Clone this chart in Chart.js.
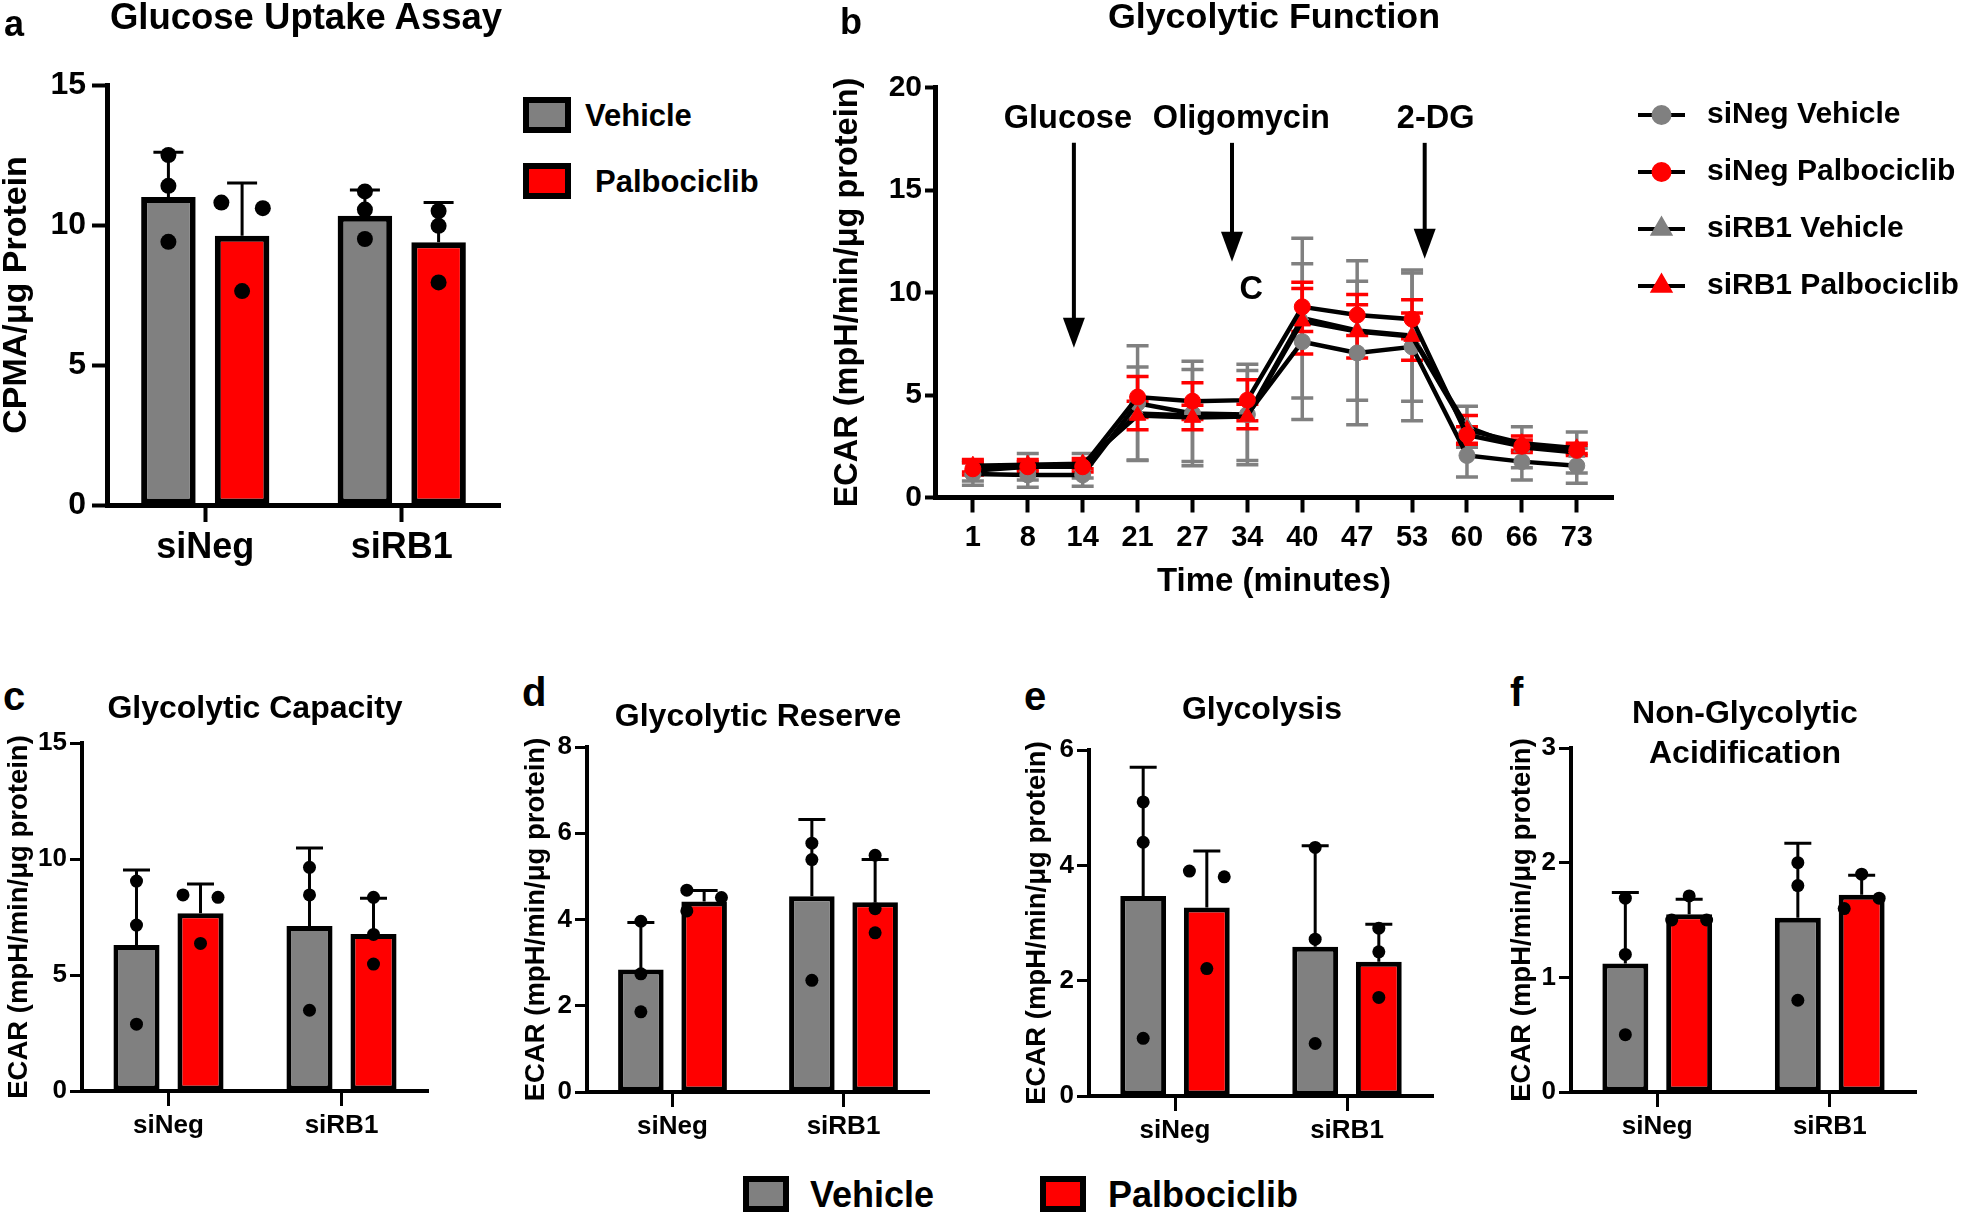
<!DOCTYPE html>
<html>
<head>
<meta charset="utf-8">
<script src="https://cdn.jsdelivr.net/npm/chart.js@4.4.1/dist/chart.umd.min.js"></script>
<style>
  body { margin: 0; background: #fff; width: 1961px; height: 1212px; position: relative; overflow: hidden; }
  canvas { position: absolute; }
  .txt { position: absolute; font-weight: bold; white-space: nowrap; line-height: 1; color: #000; }
  .key { position: absolute; box-sizing: border-box; border: 6px solid #000; }
</style>
</head>
<body>
<canvas id="chartA"></canvas>
<canvas id="chartB"></canvas>
<canvas id="chartC"></canvas>
<canvas id="chartD"></canvas>
<canvas id="chartE"></canvas>
<canvas id="chartF"></canvas>
<script>
// ---- data ----
const groups = ['siNeg', 'siRB1'];
const treatments = ['Vehicle', 'Palbociclib'];

// a: glucose uptake
const uptakeVehMean = [11.0, 10.33];
const uptakeVehSD = [1.6, 0.92];
const uptakePalMean = [9.62, 9.38];
const uptakePalSD = [1.88, 1.42];
const uptakeVehPts = [[12.5, 11.4, 9.4], [11.2, 10.55, 9.5]];
const uptakePalPts = [[10.8, 10.6, 7.64], [10.5, 9.97, 7.95]];

// b: glycolytic function time course
const timeLabels = ['1', '8', '14', '21', '27', '34', '40', '47', '53', '60', '66', '73'];
const seriesNames = ['siNeg Vehicle', 'siNeg Palbociclib', 'siRB1 Vehicle', 'siRB1 Palbociclib'];
const negVeh = [1.15, 1.1, 1.1, 4.6, 4.1, 4.05, 7.6, 7.05, 7.35, 2.05, 1.75, 1.55];
const negVehSD = [0.55, 0.6, 0.55, 2.8, 2.55, 2.45, 3.8, 3.5, 3.6, 1.05, 0.9, 0.85];
const negPal = [1.4, 1.5, 1.5, 4.9, 4.7, 4.75, 9.3, 8.9, 8.7, 3.05, 2.5, 2.3];
const negPalSD = [0.3, 0.25, 0.25, 1.0, 0.9, 1.0, 1.2, 1.0, 0.95, 0.4, 0.3, 0.25];
const rbVeh = [1.3, 1.5, 1.55, 4.1, 4.0, 4.0, 8.75, 8.15, 7.9, 3.45, 2.45, 2.2];
const rbVehSD = [0.5, 0.65, 0.6, 2.27, 2.24, 2.2, 3.9, 3.4, 3.2, 1.0, 1.0, 1.0];
const rbPal = [1.55, 1.6, 1.65, 4.0, 3.9, 3.95, 8.6, 8.1, 7.85, 3.3, 2.65, 2.4];
const rbPalSD = [0.3, 0.25, 0.25, 0.7, 0.6, 0.6, 1.6, 1.3, 1.15, 0.7, 0.35, 0.25];

// c: glycolytic capacity
const capVehMean = [6.29, 7.11];
const capVehSD = [3.24, 3.36];
const capPalMean = [7.66, 6.77];
const capPalSD = [1.26, 1.54];
const capVehPts = [[9.05, 7.15, 2.88], [9.64, 8.45, 3.48]];
const capPalPts = [[8.45, 8.35, 6.36], [8.35, 6.75, 5.47]];

// d: glycolytic reserve
const resVehMean = [2.84, 4.54];
const resVehSD = [1.09, 1.78];
const resPalMean = [4.42, 4.4];
const resPalSD = [0.25, 0.99];
const resVehPts = [[3.96, 2.74, 1.86], [5.77, 5.39, 2.59]];
const resPalPts = [[4.68, 4.51, 4.2], [5.49, 4.25, 3.69]];

// e: glycolysis
const glyVehMean = [3.47, 2.59];
const glyVehSD = [2.23, 1.75];
const glyPalMean = [3.27, 2.33];
const glyPalSD = [0.98, 0.65];
const glyVehPts = [[5.1, 4.4, 1.0], [4.31, 2.72, 0.91]];
const glyPalPts = [[3.9, 3.8, 2.21], [2.91, 2.5, 1.71]];

// f: non-glycolytic acidification
const nonVehMean = [1.12, 1.52];
const nonVehSD = [0.62, 0.65];
const nonPalMean = [1.55, 1.72];
const nonPalSD = [0.13, 0.17];
const nonVehPts = [[1.69, 1.2, 0.5], [2.0, 1.8, 0.8]];
const nonPalPts = [[1.71, 1.5, 1.5], [1.9, 1.69, 1.6]];

// ---- style ----
const GRAY = '#808080';
const RED = '#ff0000';
const SANS = "'Liberation Sans', Arial, Helvetica, sans-serif";
const ECAR = 'ECAR (mpH/min/\u03bcg protein)';

// dot spread inside a bar (-1 left, 0 centre, 1 right)
const centred = [[0, 0, 0], [0, 0, 0]];
const spreadA = [[-1, 1, 0], [0, 0, 0]];
const spreadC = [[-1, 1, 0], [0, 0, 0]];
const spreadD = [[-1, 1, -1], [0, 0, 0]];
const spreadE = [[-1, 1, 0], [0, 0, 0]];
const spreadF = [[0, -1, 1], [0, 1, -1]];

function place(cv, box) {
  cv.width = box.w;
  cv.height = box.h;
  cv.style.left = box.x + 'px';
  cv.style.top = box.y + 'px';
}

function addText(text, x, y, size, centre) {
  const el = document.createElement('div');
  el.className = 'txt';
  el.textContent = text;
  el.style.fontSize = size + 'px';
  el.style.fontFamily = SANS;
  el.style.top = (y - size / 2) + 'px';
  el.style.left = x + 'px';
  if (centre) el.style.transform = 'translateX(-50%)';
  document.body.appendChild(el);
}

function addKey(color, x, y, w, h) {
  const el = document.createElement('div');
  el.className = 'key';
  Object.assign(el.style, { left: x + 'px', top: y + 'px', width: w + 'px', height: h + 'px', background: color });
  document.body.appendChild(el);
}

// error bar (mean + SD) and individual dots on each bar
const barExtras = {
  id: 'barExtras',
  afterDatasetsDraw(chart, args, o) {
    const ctx = chart.ctx;
    const ys = chart.scales.y;
    chart.data.datasets.forEach((ds, di) => {
      chart.getDatasetMeta(di).data.forEach((bar, i) => {
        const top = ys.getPixelForValue(ds.data[i] + ds.sd[i]);
        ctx.save();
        ctx.strokeStyle = '#000';
        ctx.lineWidth = o.errWidth;
        ctx.beginPath();
        ctx.moveTo(bar.x, bar.y);
        ctx.lineTo(bar.x, top);
        ctx.moveTo(bar.x - o.cap / 2, top);
        ctx.lineTo(bar.x + o.cap / 2, top);
        ctx.stroke();
        ctx.fillStyle = '#000';
        ds.points[i].forEach((v, k) => {
          const px = bar.x + ds.spread[i][k] * bar.width * 0.38;
          ctx.beginPath();
          ctx.arc(px, ys.getPixelForValue(v), o.dot, 0, Math.PI * 2);
          ctx.fill();
        });
        ctx.restore();
      });
    });
  }
};

function barPanel(id, box, area, s) {
  const cv = document.getElementById(id);
  place(cv, box);
  const mk = (label, mean, sd, pts, spread, color) => ({
    label, data: mean, sd, points: pts, spread,
    backgroundColor: color, borderColor: '#000', borderWidth: s.barBorder, borderSkipped: false,
    categoryPercentage: s.catPct, barPercentage: s.barPct
  });
  return new Chart(cv, {
    type: 'bar',
    plugins: [barExtras],
    data: {
      labels: groups,
      datasets: [
        mk(treatments[0], s.vehMean, s.vehSD, s.vehPts, s.vehSpread, GRAY),
        mk(treatments[1], s.palMean, s.palSD, s.palPts, s.palSpread, RED)
      ]
    },
    options: {
      responsive: false,
      animation: false,
      layout: { padding: { left: 0, top: area.T - box.y, right: box.x + box.w - area.R, bottom: 0 } },
      plugins: {
        legend: { display: false },
        tooltip: { enabled: false },
        barExtras: { errWidth: s.errWidth, cap: s.cap, dot: s.dot }
      },
      scales: {
        x: {
          grid: { display: true, drawOnChartArea: false, offset: false, tickLength: s.xTick, tickWidth: s.axisW - 1, tickColor: '#000' },
          border: { color: '#000', width: s.axisW },
          ticks: { color: '#000', padding: s.xPad, font: { family: SANS, size: s.xSize, weight: 'bold' } },
          afterFit: sc => { sc.height = box.y + box.h - area.B; }
        },
        y: {
          min: 0, max: s.yMax,
          grid: { display: true, drawOnChartArea: false, tickLength: s.yTick, tickWidth: s.axisW - 1, tickColor: '#000' },
          border: { color: '#000', width: s.axisW },
          ticks: { stepSize: s.yStep, color: '#000', padding: s.yPad, font: { family: SANS, size: s.ySize, weight: 'bold' } },
          title: { display: true, text: s.yTitle, color: '#000', padding: 0, font: { family: SANS, size: s.titleSize, weight: 'bold', lineHeight: 1 } },
          afterFit: sc => { sc.width = area.L - box.x; }
        }
      }
    }
  });
}

// ---- panel a ----
barPanel('chartA', { x: 0, y: 0, w: 520, h: 580 }, { L: 107, T: 85, R: 500, B: 505 }, {
  vehMean: uptakeVehMean, vehSD: uptakeVehSD, vehPts: uptakeVehPts, vehSpread: centred,
  palMean: uptakePalMean, palSD: uptakePalSD, palPts: uptakePalPts, palSpread: spreadA,
  yMax: 15, yStep: 5, yTitle: 'CPMA/\u03bcg Protein', titleSize: 34,
  xSize: 36, ySize: 32, xTick: 17, yTick: 15, xPad: 4, yPad: 6, axisW: 5,
  barBorder: 6, catPct: 0.75, barPct: 0.74, errWidth: 3, cap: 30, dot: 8
});

// ---- bottom panels ----
const smallStyle = {
  xSize: 26, ySize: 26, titleSize: 27.5, xTick: 15, yTick: 12, xPad: 4, yPad: 3, axisW: 4,
  barBorder: 5, catPct: 0.74, barPct: 0.72, errWidth: 3, cap: 27, dot: 6.5, yTitle: ECAR
};
barPanel('chartC', { x: 6, y: 720, w: 434, h: 425 }, { L: 82, T: 743, R: 428, B: 1091 }, Object.assign({}, smallStyle, {
  vehMean: capVehMean, vehSD: capVehSD, vehPts: capVehPts, vehSpread: centred,
  palMean: capPalMean, palSD: capPalSD, palPts: capPalPts, palSpread: spreadC, yMax: 15, yStep: 5
}));
barPanel('chartD', { x: 523, y: 720, w: 417, h: 425 }, { L: 587, T: 747, R: 929, B: 1092 }, Object.assign({}, smallStyle, {
  vehMean: resVehMean, vehSD: resVehSD, vehPts: resVehPts, vehSpread: centred,
  palMean: resPalMean, palSD: resPalSD, palPts: resPalPts, palSpread: spreadD, yMax: 8, yStep: 2
}));
barPanel('chartE', { x: 1024, y: 720, w: 422, h: 425 }, { L: 1089, T: 750, R: 1433, B: 1096 }, Object.assign({}, smallStyle, {
  vehMean: glyVehMean, vehSD: glyVehSD, vehPts: glyVehPts, vehSpread: centred,
  palMean: glyPalMean, palSD: glyPalSD, palPts: glyPalPts, palSpread: spreadE, yMax: 6, yStep: 2
}));
barPanel('chartF', { x: 1509, y: 720, w: 422, h: 425 }, { L: 1571, T: 748, R: 1916, B: 1092 }, Object.assign({}, smallStyle, {
  vehMean: nonVehMean, vehSD: nonVehSD, vehPts: nonVehPts, vehSpread: centred,
  palMean: nonPalMean, palSD: nonPalSD, palPts: nonPalPts, palSpread: spreadF, yMax: 3, yStep: 1
}));

// ---- panel b ----
const timeErrors = {
  id: 'timeErrors',
  beforeDatasetsDraw(chart, args, o) {
    const ctx = chart.ctx, xs = chart.scales.x, ys = chart.scales.y;
    [GRAY, RED].forEach(col => {
      chart.data.datasets.filter(ds => ds.pointBackgroundColor === col).forEach(ds => {
        ctx.save();
        ctx.strokeStyle = col;
        ctx.lineWidth = o.width;
        ds.data.forEach((p, i) => {
          const x = xs.getPixelForValue(p.x);
          const hi = ys.getPixelForValue(p.y + ds.sd[i]);
          const lo = ys.getPixelForValue(p.y - ds.sd[i]);
          ctx.beginPath();
          ctx.moveTo(x, hi); ctx.lineTo(x, lo);
          ctx.moveTo(x - o.cap / 2, hi); ctx.lineTo(x + o.cap / 2, hi);
          ctx.moveTo(x - o.cap / 2, lo); ctx.lineTo(x + o.cap / 2, lo);
          ctx.stroke();
        });
        ctx.restore();
      });
    });
  }
};

// injection arrows and labels, in data units
const injections = [
  { text: 'Glucose', labelX: 1.73, arrowX: 1.84, tip: 7.3 },
  { text: 'Oligomycin', labelX: 4.89, arrowX: 4.72, tip: 11.5 },
  { text: '2-DG', labelX: 8.43, arrowX: 8.23, tip: 11.65 }
];
const notes = {
  id: 'notes',
  afterDatasetsDraw(chart, args, o) {
    const ctx = chart.ctx, xs = chart.scales.x, ys = chart.scales.y;
    ctx.save();
    ctx.fillStyle = '#000';
    ctx.strokeStyle = '#000';
    ctx.font = 'bold ' + o.size + 'px ' + SANS;
    ctx.textAlign = 'center';
    ctx.textBaseline = 'middle';
    injections.forEach(n => {
      ctx.fillText(n.text, xs.getPixelForValue(n.labelX), ys.getPixelForValue(o.labelY));
      const x = xs.getPixelForValue(n.arrowX);
      const top = ys.getPixelForValue(o.arrowTop);
      const tip = ys.getPixelForValue(n.tip);
      ctx.lineWidth = 4;
      ctx.beginPath();
      ctx.moveTo(x, top);
      ctx.lineTo(x, tip - 20);
      ctx.stroke();
      ctx.beginPath();
      ctx.moveTo(x - 11, tip - 30);
      ctx.lineTo(x + 11, tip - 30);
      ctx.lineTo(x, tip);
      ctx.closePath();
      ctx.fill();
    });
    ctx.fillText('C', xs.getPixelForValue(o.cX), ys.getPixelForValue(o.cY));
    ctx.restore();
  }
};

const lineLegend = {
  id: 'lineLegend',
  afterDraw(chart, args, o) {
    const ctx = chart.ctx;
    chart.data.datasets.forEach((ds, i) => {
      const y = o.top + i * o.gap;
      ctx.save();
      ctx.strokeStyle = '#000';
      ctx.lineWidth = 4;
      ctx.beginPath();
      ctx.moveTo(o.x, y);
      ctx.lineTo(o.x + o.len, y);
      ctx.stroke();
      ctx.fillStyle = ds.pointBackgroundColor;
      ctx.strokeStyle = ds.pointBackgroundColor;
      Chart.helpers.drawPoint(ctx, { pointStyle: ds.pointStyle, radius: ds.pointRadius, borderWidth: 1, rotation: 0 }, o.x + o.len / 2, y);
      ctx.fillStyle = '#000';
      ctx.font = 'bold ' + o.size + 'px ' + SANS;
      ctx.textBaseline = 'middle';
      ctx.fillText(ds.label, o.textX, y);
      ctx.restore();
    });
  }
};

const boxB = { x: 832, y: 0, w: 1129, h: 598 };
const areaB = { L: 935, T: 87.5, R: 1613, B: 497.5 };
const cvB = document.getElementById('chartB');
place(cvB, boxB);
const seriesValues = [negVeh, negPal, rbVeh, rbPal];
const seriesSD = [negVehSD, negPalSD, rbVehSD, rbPalSD];
const seriesColor = [GRAY, RED, GRAY, RED];
const seriesShape = ['circle', 'circle', 'triangle', 'triangle'];
const seriesOrder = [2, 0, 3, 1];
new Chart(cvB, {
  type: 'line',
  plugins: [timeErrors, notes, lineLegend],
  data: {
    datasets: seriesNames.map((name, k) => ({
      label: name,
      data: seriesValues[k].map((v, i) => ({ x: i, y: v })),
      sd: seriesSD[k],
      order: seriesOrder[k],
      borderColor: '#000',
      borderWidth: 4.5,
      pointStyle: seriesShape[k],
      pointRadius: seriesShape[k] === 'triangle' ? 9.5 : 8,
      pointBackgroundColor: seriesColor[k],
      pointBorderColor: seriesColor[k],
      pointBorderWidth: 1,
      tension: 0
    }))
  },
  options: {
    responsive: false,
    animation: false,
    layout: { padding: { left: 0, top: areaB.T, right: boxB.x + boxB.w - areaB.R, bottom: 0 } },
    plugins: {
      legend: { display: false },
      tooltip: { enabled: false },
      timeErrors: { width: 3.5, cap: 22 },
      notes: { size: 32.5, labelY: 18.45, arrowTop: 17.3, cX: 5.07, cY: 10.1 },
      lineLegend: { x: 1638 - boxB.x, len: 47, top: 115, gap: 57, textX: 1707 - boxB.x, size: 30 }
    },
    scales: {
      x: {
        type: 'linear', min: -0.69, max: 11.66,
        afterBuildTicks: sc => { sc.ticks = timeLabels.map((t, i) => ({ value: i })); },
        grid: { display: true, drawOnChartArea: false, tickLength: 15, tickWidth: 4, tickColor: '#000' },
        border: { color: '#000', width: 5 },
        ticks: { color: '#000', padding: 8, autoSkip: false, maxRotation: 0, callback: v => timeLabels[v], font: { family: SANS, size: 29, weight: 'bold' } },
        title: { display: true, text: 'Time (minutes)', color: '#000', padding: 0, font: { family: SANS, size: 33, weight: 'bold', lineHeight: 1 } },
        afterFit: sc => { sc.height = boxB.y + boxB.h - areaB.B; }
      },
      y: {
        min: 0, max: 20,
        grid: { display: true, drawOnChartArea: false, tickLength: 10, tickWidth: 4, tickColor: '#000' },
        border: { color: '#000', width: 5 },
        ticks: { stepSize: 5, color: '#000', padding: 3, font: { family: SANS, size: 30, weight: 'bold' } },
        title: { display: true, text: ECAR, color: '#000', padding: 0, font: { family: SANS, size: 32.5, weight: 'bold', lineHeight: 1 } },
        afterFit: sc => { sc.width = areaB.L - boxB.x; }
      }
    }
  }
});

// ---- titles, panel letters, legends ----
addText('a', 4, 24, 36, false);
addText('Glucose Uptake Assay', 306, 17, 36.5, true);
addText('b', 840, 22, 36, false);
addText('Glycolytic Function', 1274, 17, 35.8, true);
addText('c', 3, 696, 40, false);
addText('Glycolytic Capacity', 255, 707, 32, true);
addText('d', 522, 692, 40, false);
addText('Glycolytic Reserve', 758, 715, 32, true);
addText('e', 1024, 696, 40, false);
addText('Glycolysis', 1262, 708, 32, true);
addText('f', 1510, 692, 40, false);
addText('Non-Glycolytic', 1745, 712, 32, true);
addText('Acidification', 1745, 752, 32, true);

const keyColors = [GRAY, RED];
// legend next to panel a
treatments.forEach((t, i) => {
  addKey(keyColors[i], 523, 97 + i * 66, 48, 36);
  addText(t, 585 + i * 10, 115 + i * 66, 31, false);
});
// shared legend under the bottom panels
treatments.forEach((t, i) => {
  addKey(keyColors[i], 743 + i * 297, 1176, 46, 36);
  addText(t, 810 + i * 298, 1195, 36, false);
});
</script>
</body>
</html>
